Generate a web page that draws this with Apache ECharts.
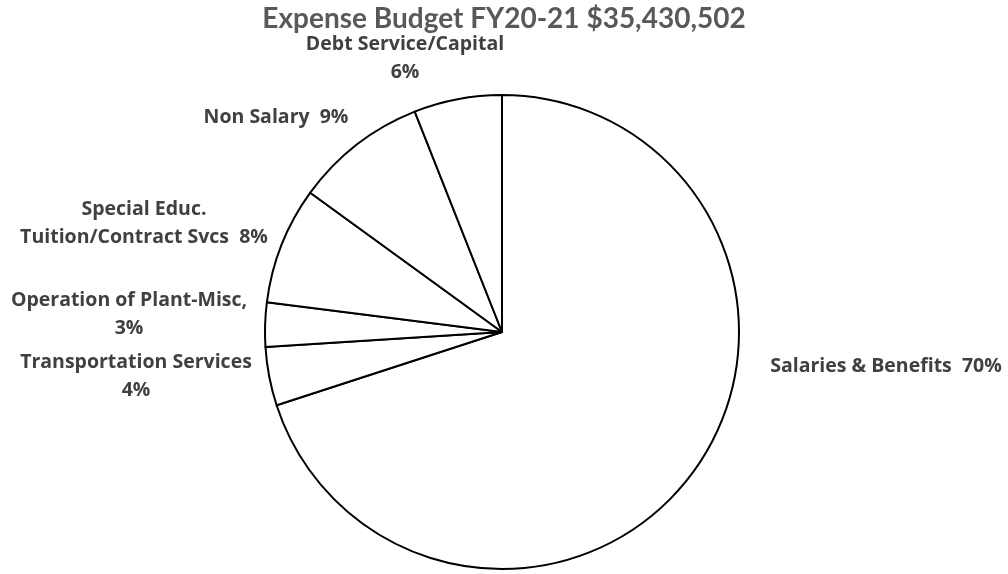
<!DOCTYPE html>
<html>
<head>
<meta charset="utf-8">
<script src="https://cdn.jsdelivr.net/npm/echarts@6/dist/echarts.min.js"></script>
<style>
  html, body { margin: 0; padding: 0; background: #fff; }
  #chart { width: 1008px; height: 574px; }
</style>
</head>
<body>
<div id="chart"></div>
<script>
// Expense budget shares, in percent, clockwise from 12 o'clock
const categories = [
  'Salaries & Benefits',
  'Transportation Services',
  'Operation of Plant-Misc,',
  'Special Educ.\nTuition/Contract Svcs',
  'Non Salary',
  'Debt Service/Capital'
];
const shares = [70, 4, 3, 8, 9, 6];
// how the percentage follows the name: same line or next line
const labelJoin = ['  ', '\n', '\n', '  ', '  ', '\n'];
const titleText = 'Expense Budget FY20-21 $35,430,502';

// label anchor points (centre of each text block)
const labelSpots = [
  [886, 366],
  [136, 376],
  [129, 314],
  [144, 223],
  [276, 117],
  [405, 58]
];

const chart = echarts.init(document.getElementById('chart'));
chart.setOption({
  animation: false,
  title: {
    text: titleText,
    left: 'center',
    top: 0,
    textStyle: {
      fontFamily: 'Lato',
      fontSize: 28,
      fontWeight: 'bold',
      color: '#595959'
    }
  },
  series: [{
    type: 'pie',
    center: [502, 332],
    radius: 237,
    startAngle: 90,
    clockwise: true,
    avoidLabelOverlap: false,
    silent: true,
    data: categories.map((name, i) => ({ name: name, value: shares[i] })),
    itemStyle: {
      color: '#ffffff',
      borderColor: '#000000',
      borderWidth: 2
    },
    label: {
      show: true,
      formatter: (p) => p.name + labelJoin[p.dataIndex] + p.value + '%',
      fontFamily: 'Open Sans',
      fontSize: 19.5,
      fontWeight: 'bold',
      color: '#404040',
      lineHeight: 28,
      align: 'center'
    },
    labelLine: { show: false },
    labelLayout: (params) => ({
      x: labelSpots[params.dataIndex][0],
      y: labelSpots[params.dataIndex][1],
      align: 'center',
      verticalAlign: 'middle'
    })
  }]
});
</script>
</body>
</html>
